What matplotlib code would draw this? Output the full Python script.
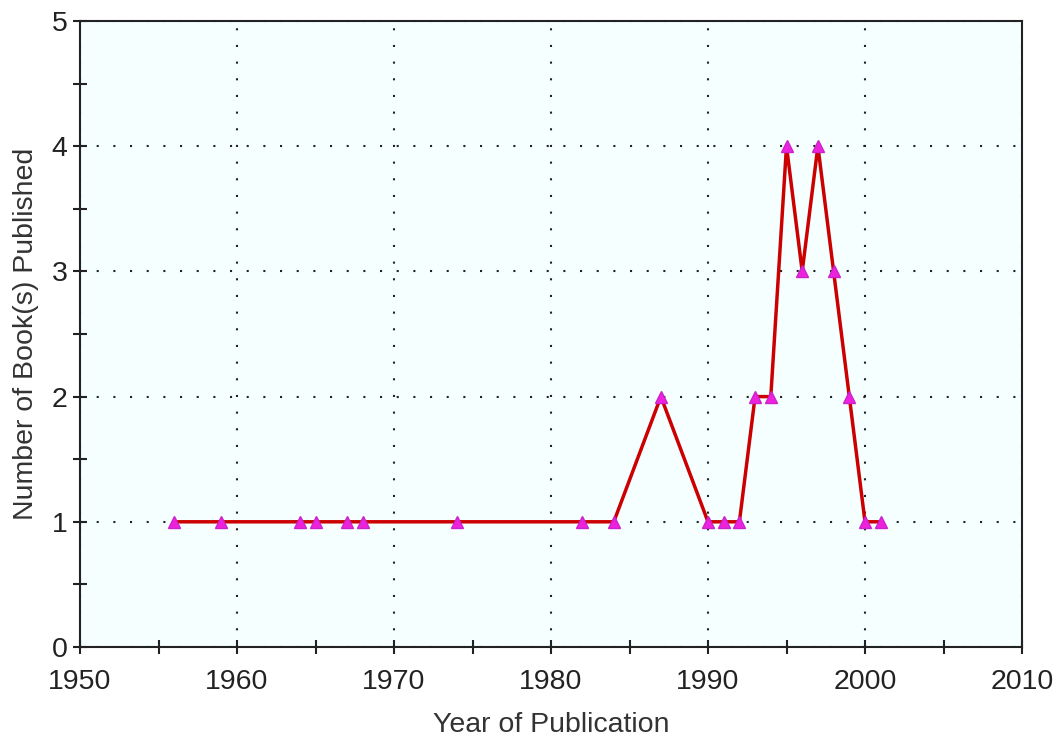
import numpy as np
import matplotlib
matplotlib.use('agg')
import matplotlib.pyplot as plt
from matplotlib.ticker import MultipleLocator

plt.rcParams['font.family'] = ['Liberation Sans', 'DejaVu Sans']

years = [1956, 1959, 1964, 1965, 1967, 1968, 1974, 1982, 1984, 1987, 1990,
         1991, 1992, 1993, 1994, 1995, 1996, 1997, 1998, 1999, 2000, 2001]
books = [1, 1, 1, 1, 1, 1, 1, 1, 1, 2, 1,
         1, 1, 2, 2, 4, 3, 4, 3, 2, 1, 1]

fig = plt.figure(figsize=(10.58, 7.42), dpi=100)
ax = fig.add_axes([80/1058, 1 - 647/742, (1022-80)/1058, (647-21)/742])
ax.set_facecolor('#f5ffff')

ax.plot(years, books, color='#cc0000', lw=2.5, zorder=3)
ax.plot(years, books, ls='none', marker='^', ms=8, color='#ee22dd',
        mec='#cc22cc', zorder=4)

ax.set_xlim(1950, 2010)
ax.set_ylim(0, 5)
ax.xaxis.set_major_locator(MultipleLocator(10))
ax.xaxis.set_minor_locator(MultipleLocator(5))
ax.yaxis.set_major_locator(MultipleLocator(1))
ax.yaxis.set_minor_locator(MultipleLocator(0.5))
ax.tick_params(which='both', direction='inout', length=10, width=1.5,
               labelsize=20.5, colors='#222222')
ax.tick_params(axis='x', pad=11)
ax.tick_params(axis='y', pad=4)
ax.grid(True, which='major', ls=(0, (1, 7)), color='#222222', lw=1.5)
for s in ax.spines.values():
    s.set_linewidth(1.5)
    s.set_color('#222222')

ax.set_xlabel('Year of Publication', fontsize=20.5, color='#333333', labelpad=12)
ax.set_ylabel('Number of Book(s) Published', fontsize=20.5, color='#333333', labelpad=9)

fig.savefig('out.png', dpi=100)
